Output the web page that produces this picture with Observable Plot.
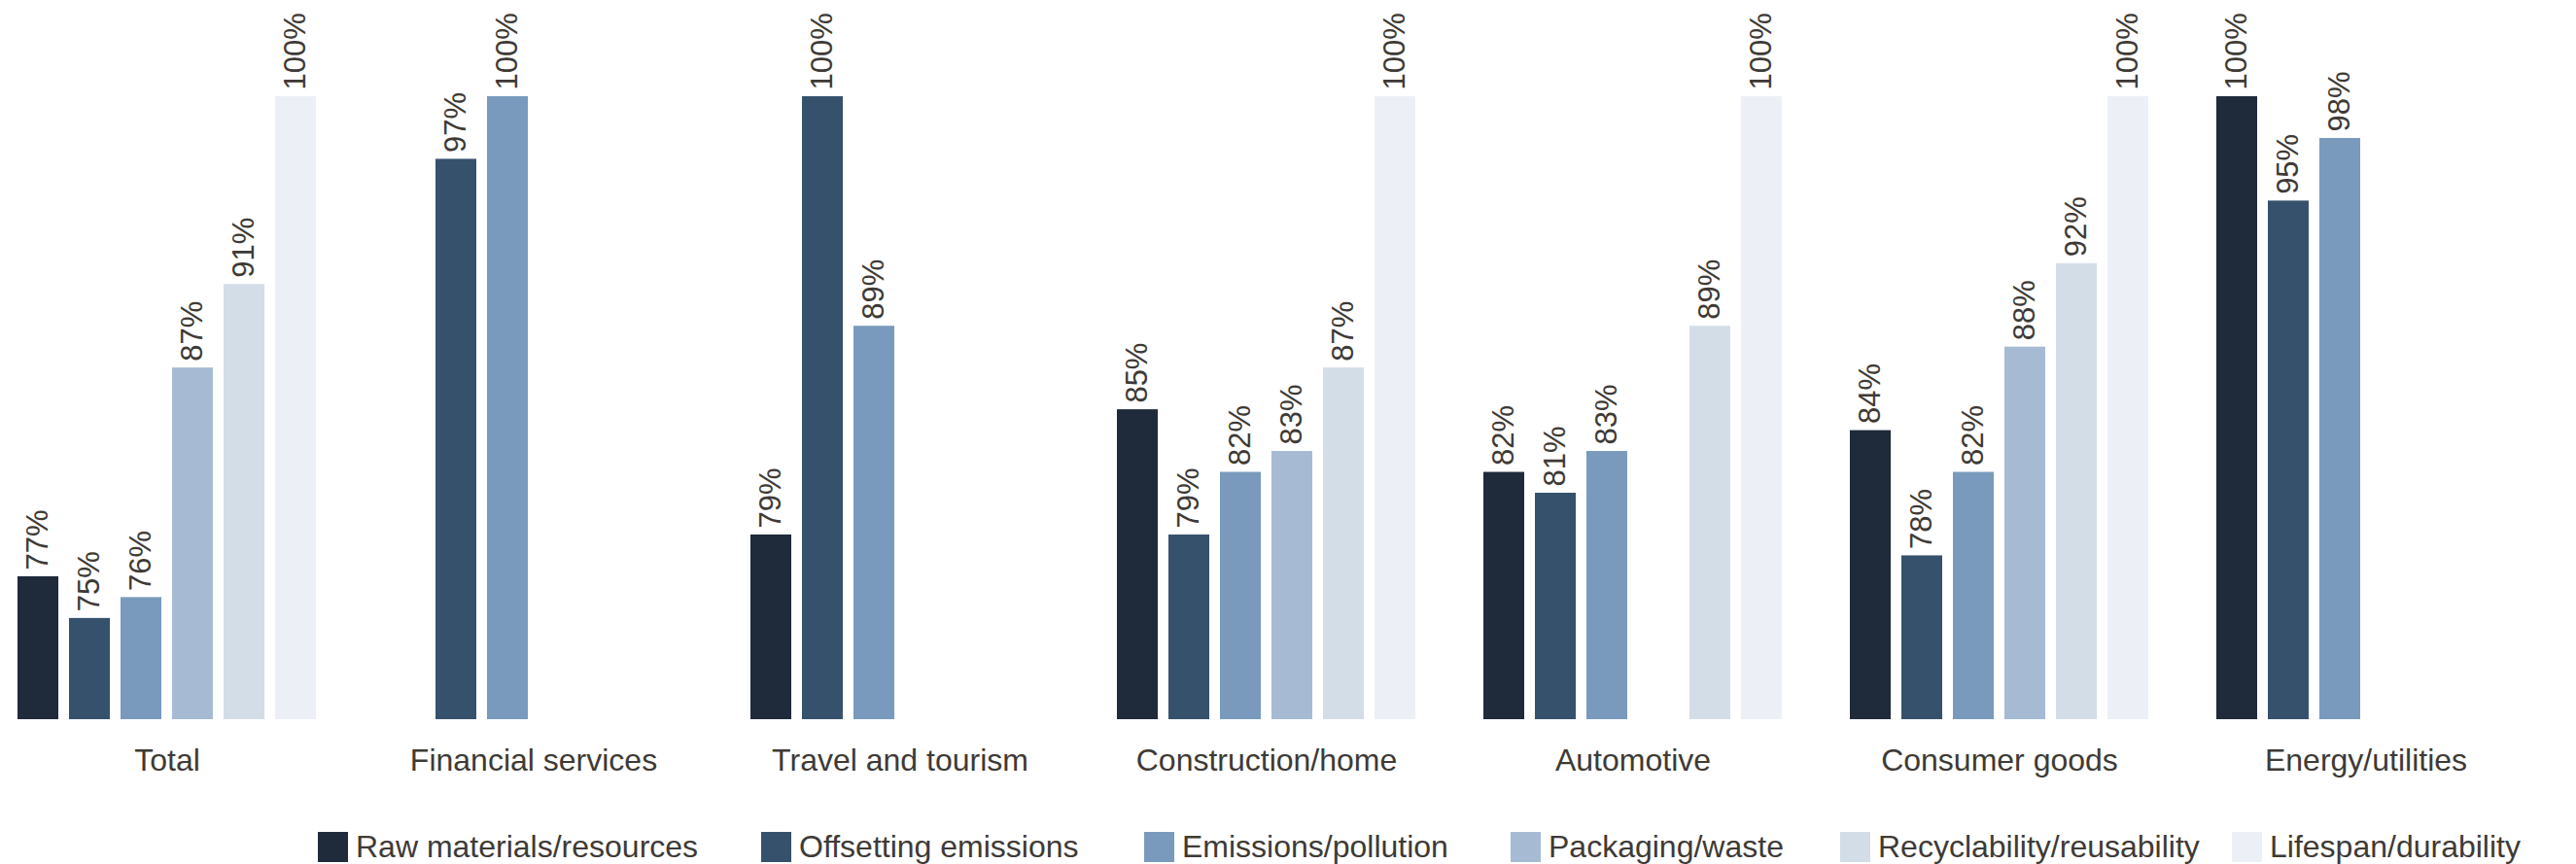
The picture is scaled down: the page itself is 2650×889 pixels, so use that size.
<!DOCTYPE html>
<html>
<head>
<meta charset="utf-8">
<script src="https://cdn.jsdelivr.net/npm/d3@7"></script>
<script src="https://cdn.jsdelivr.net/npm/@observablehq/plot@0.6"></script>
<style>
  html, body { margin: 0; padding: 0; background: #fff; }
  #chart { width: 2650px; }
  .legend { position: relative; height: 59px; font-family: "Liberation Sans", Arial, sans-serif; font-size: 32px; color: #3e3a36; }
  .legend .item { position: absolute; top: 26px; display: flex; align-items: flex-start; }
  .legend .sw { width: 31px; height: 31px; margin-right: 8px; flex: none; }
  .legend .lab { line-height: 31px; white-space: nowrap; }
</style>
</head>
<body>
<div id="chart"></div>
<script>
const categories = ["Total", "Financial services", "Travel and tourism", "Construction/home", "Automotive", "Consumer goods", "Energy/utilities"];
const seriesNames = ["Raw materials/resources", "Offsetting emissions", "Emissions/pollution", "Packaging/waste", "Recyclability/reusability", "Lifespan/durability"];
const seriesColors = ["#1f2a3a", "#36516c", "#799abc", "#a6bbd3", "#d3dde8", "#ecf0f6"];

const rawMaterials  = [77, null, 79, 85, 82, 84, 100];
const offsetting    = [75, 97, 100, 79, 81, 78, 95];
const emissions     = [76, 100, 89, 82, 83, 82, 98];
const packaging     = [87, null, null, 83, null, 88, null];
const recyclability = [91, null, null, 87, 89, 92, null];
const lifespan      = [100, null, null, 100, 100, 100, null];

const seriesValues = [rawMaterials, offsetting, emissions, packaging, recyclability, lifespan];

const data = [];
categories.forEach((c, i) => {
  seriesNames.forEach((s, j) => {
    const v = seriesValues[j][i];
    if (v != null) data.push({category: c, series: s, value: v});
  });
});

const baseValue = 70.15;
const textColor = "#3e3a36";

const chart = Plot.plot({
  width: 2650,
  height: 830,
  marginTop: 99,
  marginBottom: 90,
  marginLeft: 16,
  marginRight: 61,
  style: {fontFamily: "Liberation Sans, Arial, sans-serif", color: textColor, background: "#fff"},
  fx: {domain: categories, paddingInner: 0.181, paddingOuter: 0, label: null},
  x: {domain: seriesNames, paddingInner: 0.2, paddingOuter: 0, axis: null},
  y: {domain: [baseValue, 100], axis: null},
  color: {domain: seriesNames, range: seriesColors},
  marks: [
    Plot.barY(data, {fx: "category", x: "series", y1: baseValue, y2: "value", fill: "series"}),
    Plot.text(data, {fx: "category", x: "series", y: "value", text: d => `${d.value}%`, rotate: -90, textAnchor: "start", lineAnchor: "middle", dy: -7, fontSize: 31, fill: textColor}),
    Plot.axisFx({anchor: "bottom", tickSize: 0, tickPadding: 30, fontSize: 32, label: null, fill: textColor})
  ]
});
document.getElementById("chart").appendChild(chart);

// legend layout (pixel offsets of each swatch)
const legendLeft = [327, 783, 1177, 1554, 1893, 2296];
const legend = document.createElement("div");
legend.className = "legend";
seriesNames.forEach((s, j) => {
  const item = document.createElement("div");
  item.className = "item";
  item.style.left = legendLeft[j] + "px";
  const sw = document.createElement("div");
  sw.className = "sw";
  sw.style.background = seriesColors[j];
  const lab = document.createElement("div");
  lab.className = "lab";
  lab.textContent = s;
  item.appendChild(sw);
  item.appendChild(lab);
  legend.appendChild(item);
});
document.getElementById("chart").appendChild(legend);
</script>
</body>
</html>
